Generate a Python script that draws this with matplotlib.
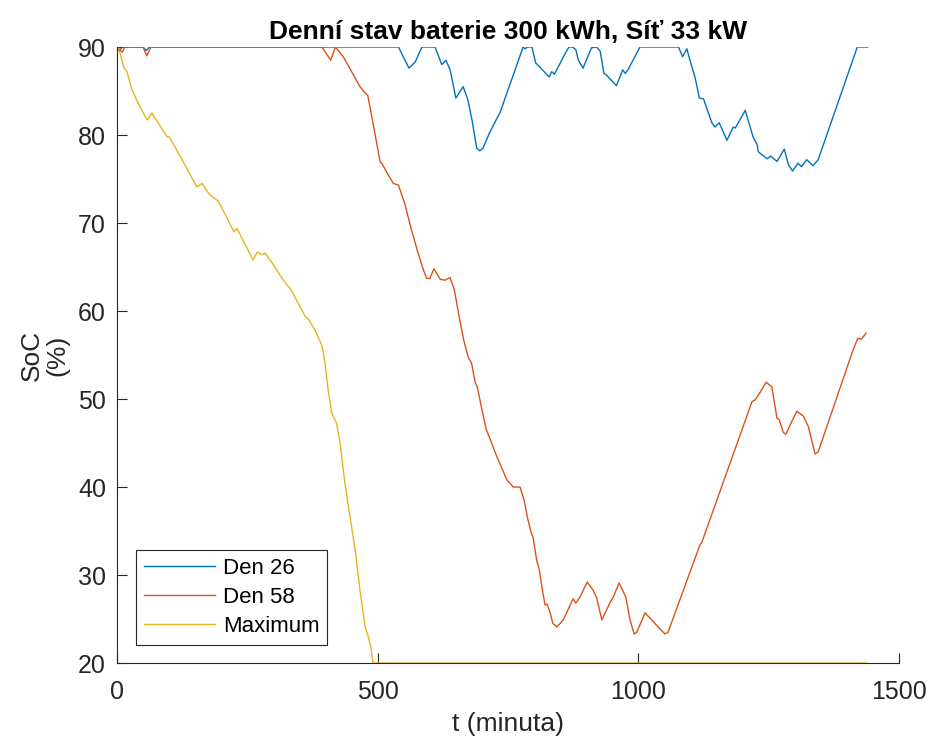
import matplotlib.pyplot as plt

# Den 26
t_den26 = [0, 5, 10, 15, 50, 56, 62, 540, 550, 560, 572, 585, 610, 623, 631, 639, 650,
           664, 673, 681, 690, 696, 702, 715, 735, 779, 783, 787, 796, 803, 829, 834,
           839, 860, 867, 874, 880, 885, 894, 910, 920, 927, 934, 939, 958, 970, 975,
           981, 1003, 1077, 1085, 1093, 1099, 1109, 1117, 1125, 1141, 1147, 1155, 1170,
           1182, 1186, 1205, 1220, 1228, 1230, 1247, 1254, 1266, 1280, 1288, 1296,
           1306, 1313, 1323, 1335, 1345, 1420, 1440]
soc_den26 = [90, 89.6, 90, 90, 90, 89.6, 90, 90, 88.8, 87.6, 88.3, 90, 90, 88.0, 88.5,
             87.4, 84.2, 85.5, 84.0, 81.7, 78.5, 78.2, 78.5, 80.3, 82.6, 90, 89.8, 90,
             90, 88.2, 86.6, 87.2, 86.9, 89.3, 90, 90, 89.7, 88.5, 87.6, 89.9, 90, 89.5,
             87.0, 86.8, 85.6, 87.4, 87.0, 87.5, 90, 90, 88.9, 89.8, 88.5, 86.5, 84.2,
             84.1, 81.4, 80.9, 81.4, 79.4, 80.9, 80.8, 82.8, 79.8, 78.9, 78.1, 77.3,
             77.6, 77.0, 78.4, 76.6, 75.9, 76.8, 76.4, 77.2, 76.5, 77.2, 90, 90]

# Den 58
t_den58 = [0, 5, 10, 15, 50, 57, 65, 393, 410, 419, 434, 466, 474, 481, 491, 498, 505,
           508, 518, 530, 540, 552, 565, 576, 587, 594, 600, 608, 620, 629, 639, 647,
           655, 665, 674, 680, 687, 691, 700, 708, 729, 748, 760, 773, 781, 787, 794,
           798, 805, 810, 816, 821, 825, 831, 836, 844, 856, 875, 880, 888, 902, 913,
           920, 930, 946, 952, 963, 976, 984, 992, 997, 1013, 1038, 1051, 1057, 1118,
           1122, 1218, 1224, 1233, 1245, 1256, 1266, 1270, 1278, 1283, 1294, 1304,
           1316, 1326, 1339, 1345, 1412, 1421, 1428, 1437]
soc_den58 = [90, 89.7, 89.4, 90, 90, 89.0, 90, 90, 88.5, 90, 88.9, 85.5, 84.9, 84.5,
             81.4, 79.1, 76.9, 76.8, 75.7, 74.5, 74.3, 72.2, 69.2, 66.9, 64.8, 63.7,
             63.7, 64.8, 63.6, 63.5, 63.8, 62.4, 59.8, 56.7, 54.7, 54.1, 51.9, 51.4,
             48.8, 46.6, 43.4, 40.8, 40.0, 40.0, 38.5, 36.6, 34.9, 34.3, 31.7, 30.6,
             28.3, 26.6, 26.7, 25.7, 24.5, 24.1, 24.9, 27.3, 26.8, 27.5, 29.2, 28.3,
             27.4, 24.9, 26.9, 27.5, 29.1, 27.5, 24.9, 23.3, 23.5, 25.7, 24.1, 23.3,
             23.5, 33.4, 33.75, 49.7, 49.9, 50.7, 51.9, 51.4, 47.8, 47.7, 46.2, 46.0,
             47.4, 48.6, 48.1, 46.9, 43.75, 44.0, 55.6, 56.9, 56.8, 57.5]

# Maximum
t_max = [0, 6, 13, 19, 29, 44, 58, 67, 96, 100, 125, 153, 163, 178, 194, 211, 224, 230,
         261, 269, 278, 284, 303, 318, 335, 351, 361, 367, 380, 393, 399, 405, 412,
         421, 428, 437, 447, 457, 466, 476, 482, 487, 491, 1438]
soc_max = [90, 89.3, 87.7, 87.2, 85.1, 83.2, 81.7, 82.5, 79.8, 79.8, 77.2, 74.1, 74.5,
           73.2, 72.5, 70.6, 69.0, 69.4, 65.8, 66.7, 66.4, 66.6, 65.0, 63.6, 62.3,
           60.5, 59.4, 59.1, 57.8, 56.1, 54.1, 51.0, 48.4, 47.3, 45.0, 40.5, 36.6,
           32.8, 28.3, 24.1, 23.0, 21.8, 20, 20]

labels = ['Den 26', 'Den 58', 'Maximum']
colors = ['#0072BD', '#D95319', '#EDB120']


def main():
    plt.rcParams['font.family'] = ['Liberation Sans', 'DejaVu Sans']
    fig = plt.figure(figsize=(9.27, 7.38), dpi=100)
    ax = fig.add_axes([0.1262, 0.1016, 0.8436, 0.8347])

    ax.plot(t_den26, soc_den26, color=colors[0], lw=1.0, label=labels[0])
    ax.plot(t_den58, soc_den58, color=colors[1], lw=1.0, label=labels[1])
    ax.plot(t_max, soc_max, color=colors[2], lw=1.0, label=labels[2])

    ax.set_xlim(0, 1500)
    ax.set_ylim(20, 90)
    ax.set_xticks([0, 500, 1000, 1500])
    ax.set_yticks(range(20, 91, 10))
    ax.spines['top'].set_visible(False)
    ax.spines['right'].set_visible(False)
    for s in ['left', 'bottom']:
        ax.spines[s].set_color('#262626')
        ax.spines[s].set_linewidth(0.8)
    ax.tick_params(direction='in', length=7, width=0.8, colors='#262626',
                   labelsize=18)
    ax.tick_params(axis='x', pad=12)
    ax.tick_params(axis='y', pad=8)

    ax.set_title('Denní stav baterie 300 kWh, Síť 33 kW', fontsize=19,
                 fontweight='bold', pad=6)
    ax.set_xlabel('t (minuta)', fontsize=19, color='#262626', labelpad=6)
    ax.set_ylabel('SoC\n(%)', fontsize=19, color='#262626', labelpad=6,
                  linespacing=1.1)

    leg = ax.legend(loc='lower left', bbox_to_anchor=(0.0243, 0.03), fontsize=16,
                    fancybox=False, framealpha=1, edgecolor='#262626',
                    handlelength=3.2, borderpad=0.35, labelspacing=0.36,
                    handletextpad=0.35, borderaxespad=0)
    leg.get_frame().set_linewidth(0.8)

    fig.savefig('out.png', dpi=100)


if __name__ == "__main__":
    main()
